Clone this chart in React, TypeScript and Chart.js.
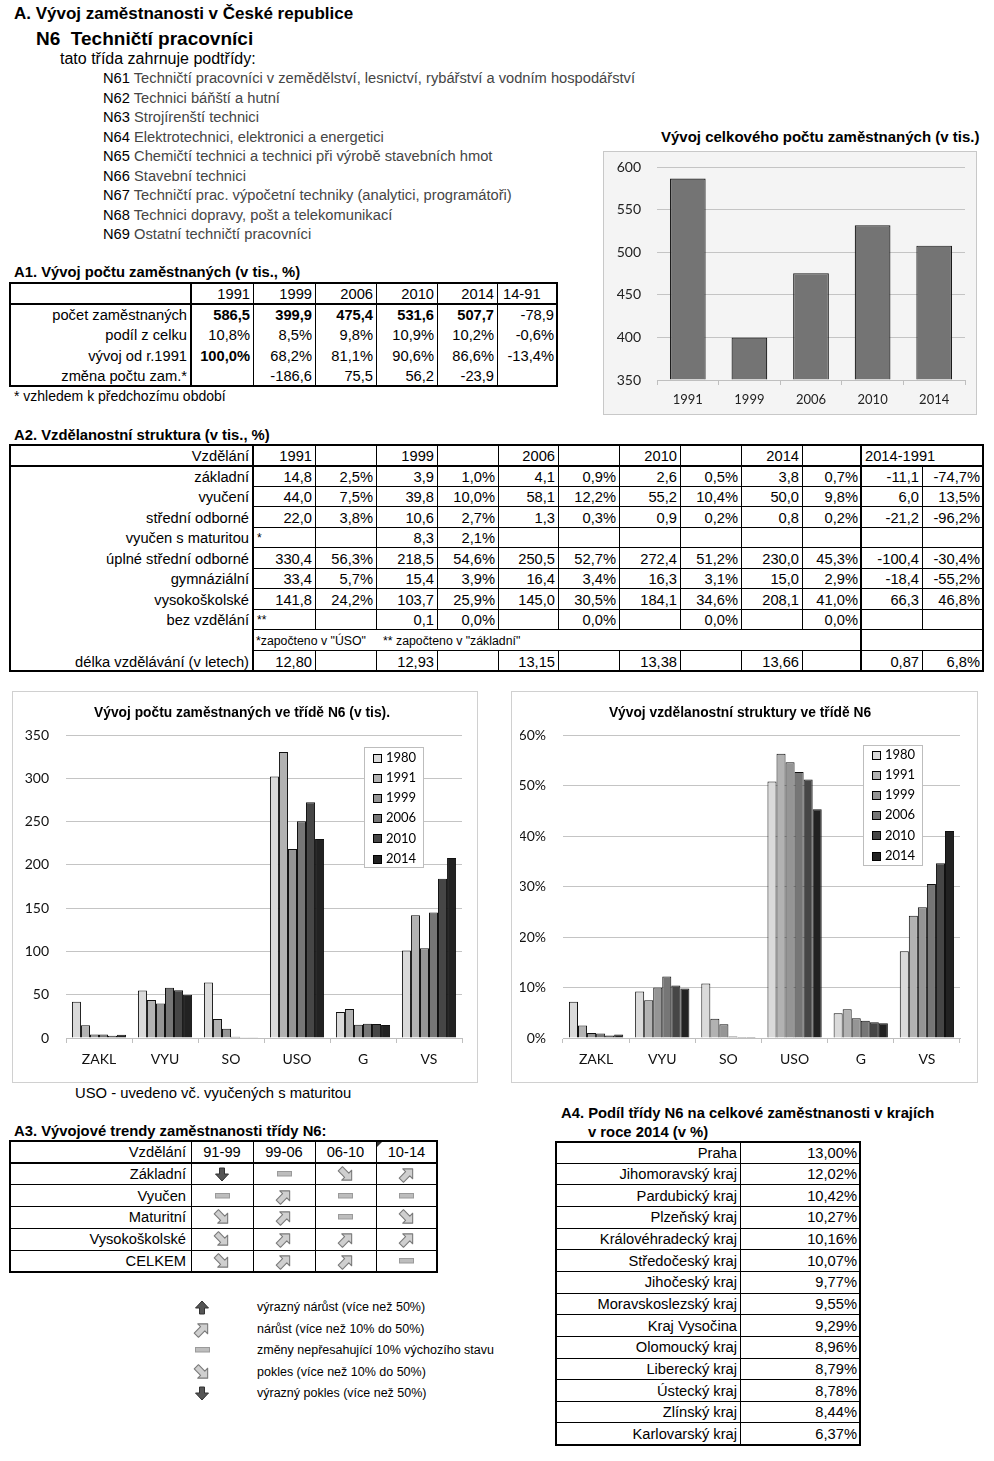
import React, { useEffect, useRef } from "react";
import { Chart, registerables } from "chart.js";
Chart.register(...registerables);

const FONT = '"Liberation Sans", Arial, sans-serif';
const CHART_FONT = 'Lato, "Open Sans", sans-serif';
const BODY = 14.7;

// ---------- data ----------
const subclassCodes = ["N61", "N62", "N63", "N64", "N65", "N66", "N67", "N68", "N69"];
const subclassNames = [
  "Techničtí pracovníci v zemědělství, lesnictví, rybářství a vodním hospodářství",
  "Technici báňští a hutní",
  "Strojírenští technici",
  "Elektrotechnici, elektronici a energetici",
  "Chemičtí technici a technici při výrobě stavebních hmot",
  "Stavební technici",
  "Techničtí prac. výpočetní techniky (analytici, programátoři)",
  "Technici dopravy, pošt a telekomunikací",
  "Ostatní techničtí pracovníci",
];

const totalYears = ["1991", "1999", "2006", "2010", "2014"];
const totalEmployed = [586.5, 399.9, 475.4, 531.6, 507.7];

const a1Header = ["1991", "1999", "2006", "2010", "2014", "14-91"];
const a1Labels = ["počet zaměstnaných", "podíl z celku", "vývoj od r.1991", "změna počtu zam.*"];
const a1Count = ["586,5", "399,9", "475,4", "531,6", "507,7", "-78,9"];
const a1Share = ["10,8%", "8,5%", "9,8%", "10,9%", "10,2%", "-0,6%"];
const a1Index = ["100,0%", "68,2%", "81,1%", "90,6%", "86,6%", "-13,4%"];
const a1Change = ["", "-186,6", "75,5", "56,2", "-23,9", ""];

const a2Header = ["1991", "", "1999", "", "2006", "", "2010", "", "2014", ""];
const a2Labels = ["základní", "vyučení", "střední odborné", "vyučen s maturitou", "úplné střední odborné", "gymnáziální", "vysokoškolské", "bez vzdělání"];
const a2Zakladni = ["14,8", "2,5%", "3,9", "1,0%", "4,1", "0,9%", "2,6", "0,5%", "3,8", "0,7%", "-11,1", "-74,7%"];
const a2Vyuceni = ["44,0", "7,5%", "39,8", "10,0%", "58,1", "12,2%", "55,2", "10,4%", "50,0", "9,8%", "6,0", "13,5%"];
const a2Stredni = ["22,0", "3,8%", "10,6", "2,7%", "1,3", "0,3%", "0,9", "0,2%", "0,8", "0,2%", "-21,2", "-96,2%"];
const a2VyucenMat = ["*", "", "8,3", "2,1%", "", "", "", "", "", "", "", ""];
const a2Uplne = ["330,4", "56,3%", "218,5", "54,6%", "250,5", "52,7%", "272,4", "51,2%", "230,0", "45,3%", "-100,4", "-30,4%"];
const a2Gymn = ["33,4", "5,7%", "15,4", "3,9%", "16,4", "3,4%", "16,3", "3,1%", "15,0", "2,9%", "-18,4", "-55,2%"];
const a2Vs = ["141,8", "24,2%", "103,7", "25,9%", "145,0", "30,5%", "184,1", "34,6%", "208,1", "41,0%", "66,3", "46,8%"];
const a2Bez = ["**", "", "0,1", "0,0%", "", "0,0%", "", "0,0%", "", "0,0%", "", ""];
const a2Delka = ["12,80", "", "12,93", "", "13,15", "", "13,38", "", "13,66", "", "0,87", "6,8%"];

const eduCategories = ["ZAKL", "VYU", "SO", "USO", "G", "VS"];
const seriesYears = ["1980", "1991", "1999", "2006", "2010", "2014"];
const emp1980 = [42, 55, 64, 302, 30, 101];
const emp1991 = [14.8, 44.0, 22.0, 330.4, 33.4, 141.8];
const emp1999 = [3.9, 39.8, 10.6, 218.5, 15.4, 103.7];
const emp2006 = [4.1, 58.1, 1.3, 250.5, 16.4, 145.0];
const emp2010 = [2.6, 55.2, 0.9, 272.4, 16.3, 184.1];
const emp2014 = [3.8, 50.0, 0.8, 230.0, 15.0, 208.1];
const pct1980 = [7.2, 9.2, 10.8, 50.8, 4.9, 17.2];
const pct1991 = [2.5, 7.5, 3.8, 56.3, 5.7, 24.2];
const pct1999 = [1.0, 10.0, 2.7, 54.6, 3.9, 25.9];
const pct2006 = [0.9, 12.2, 0.3, 52.7, 3.4, 30.5];
const pct2010 = [0.5, 10.4, 0.2, 51.2, 3.1, 34.6];
const pct2014 = [0.7, 9.8, 0.2, 45.3, 2.9, 41.0];
const seriesColors = ["#dadada", "#b2b2b2", "#959595", "#767676", "#464646", "#222222"];

const a3Header = ["91-99", "99-06", "06-10", "10-14"];
const a3Labels = ["Základní", "Vyučen", "Maturitní", "Vysokoškolské", "CELKEM"];
const a3Zakladni = ["dd", "s", "d", "u"];
const a3Vyucen = ["s", "u", "s", "s"];
const a3Maturitni = ["d", "u", "s", "d"];
const a3Vysokoskolske = ["d", "u", "u", "u"];
const a3Celkem = ["d", "u", "u", "s"];
const trendKinds = ["uu", "u", "s", "d", "dd"];
const trendTexts = [
  "výrazný nárůst (více než 50%)",
  "nárůst (více než 10% do 50%)",
  "změny nepřesahující 10% výchozího stavu",
  "pokles (více než 10% do 50%)",
  "výrazný pokles (více než 50%)",
];

const regions = ["Praha", "Jihomoravský kraj", "Pardubický kraj", "Plzeňský kraj", "Královéhradecký kraj", "Středočeský kraj", "Jihočeský kraj", "Moravskoslezský kraj", "Kraj Vysočina", "Olomoucký kraj", "Liberecký kraj", "Ústecký kraj", "Zlínský kraj", "Karlovarský kraj"];
const regionShares = ["13,00%", "12,02%", "10,42%", "10,27%", "10,16%", "10,07%", "9,77%", "9,55%", "9,29%", "8,96%", "8,79%", "8,78%", "8,44%", "6,37%"];

// ---------- helpers ----------
const T = ({ x, y, size = BODY, bold = false, color = "#000", children, font = FONT, style = {} }: any) => (
  <div style={{ position: "absolute", left: x, top: Math.round(y - size * 0.6), fontSize: size, lineHeight: `${Math.round(size * 1.2)}px`, fontWeight: bold ? "bold" : "normal", color, fontFamily: font, whiteSpace: "nowrap", ...style }}>{children}</div>
);
const HL = ({ x1, x2, y, t = 1 }: any) => (
  <div style={{ position: "absolute", left: Math.round(x1), top: Math.round(y - t / 2), width: Math.round(x2 - x1), height: t, background: "#000" }} />
);
const VL = ({ x, y1, y2, t = 1 }: any) => (
  <div style={{ position: "absolute", left: Math.round(x - t / 2), top: Math.round(y1), width: t, height: Math.round(y2 - y1), background: "#000" }} />
);
const Cell = ({ x1, x2, y1, y2, align = "right", size = BODY, bold = false, pad = 3, children }: any) => (
  <div style={{ position: "absolute", left: Math.round(x1), top: Math.round(y1), width: Math.round(x2 - x1), height: Math.round(y2 - y1), display: "flex", alignItems: "center", justifyContent: align === "right" ? "flex-end" : align === "center" ? "center" : "flex-start", paddingLeft: align === "left" ? pad : 0, paddingRight: align === "right" ? pad : 0, boxSizing: "border-box", fontSize: size, fontWeight: bold ? "bold" : "normal", fontFamily: FONT, whiteSpace: "nowrap", color: "#000" }}>{children}</div>
);
const Frame = ({ x1, x2, y1, y2, t = 2 }: any) => (
  <>
    <HL x1={x1 - t / 2} x2={x2 + t / 2} y={y1} t={t} />
    <HL x1={x1 - t / 2} x2={x2 + t / 2} y={y2} t={t} />
    <VL x={x1} y1={y1} y2={y2} t={t} />
    <VL x={x2} y1={y1} y2={y2} t={t} />
  </>
);

function TrendIcon({ kind }: { kind: string }) {
  if (kind === "s") {
    return (
      <svg width="17" height="8" style={{ display: "block" }}>
        <rect x="1.5" y="1.5" width="14" height="4.5" fill="#bdbdbd" stroke="#9a9a9a" />
      </svg>
    );
  }
  if (kind === "dd" || kind === "uu") {
    const pts = "4.5,1 9.5,1 9.5,7 13.5,7 7,14 0.5,7 4.5,7";
    return (
      <svg width="14" height="15" style={{ display: "block" }}>
        <polygon points={pts} fill="#555" stroke="#333" transform={kind === "uu" ? "rotate(180 7 7.5)" : undefined} />
      </svg>
    );
  }
  const pts = "0,6 9,6 9,2 16,9 9,16 9,12 0,12";
  const rot = kind === "u" ? -45 : 45;
  return (
    <svg width="18" height="18" style={{ display: "block", overflow: "visible" }}>
      <g transform={`translate(1 0.5) rotate(${rot} 8 9)`}>
        <polygon points={pts} fill="#cfcfcf" stroke="#7a7a7a" strokeWidth="1.1" strokeLinejoin="round" />
      </g>
    </svg>
  );
}

const boxLegend = {
  id: "boxLegend",
  afterDraw(chart: any, _args: any, opts: any) {
    const { ctx } = chart;
    ctx.save();
    ctx.fillStyle = "#ffffff";
    ctx.fillRect(opts.x, opts.y, opts.w, opts.h);
    ctx.strokeStyle = "#bdbdbd";
    ctx.lineWidth = 1;
    ctx.strokeRect(opts.x + 0.5, opts.y + 0.5, opts.w, opts.h);
    ctx.font = `13px ${CHART_FONT}`;
    ctx.textBaseline = "middle";
    chart.data.datasets.forEach((ds: any, i: number) => {
      const cy = opts.y + opts.first + i * opts.rowH;
      ctx.fillStyle = ds.backgroundColor;
      ctx.fillRect(opts.x + 9.5, Math.round(cy - 4) + 0.5, 8, 8);
      ctx.strokeStyle = "#000";
      ctx.strokeRect(opts.x + 9.5, Math.round(cy - 4) + 0.5, 8, 8);
      ctx.fillStyle = "#000";
      ctx.fillText(ds.label, opts.x + 22, cy);
    });
    ctx.restore();
  },
};

function ChartCanvas({ x, y, w, h, make }: any) {
  const ref = useRef<HTMLCanvasElement>(null);
  useEffect(() => {
    const c = new Chart(ref.current as HTMLCanvasElement, make());
    return () => c.destroy();
  }, []);
  return <canvas ref={ref} width={w} height={h} style={{ position: "absolute", left: x, top: y, width: w, height: h }} />;
}

function totalConfig(): any {
  return {
    type: "bar",
    data: {
      labels: totalYears,
      datasets: [{ data: totalEmployed, base: 350, backgroundColor: "#747474", borderColor: "#1c1c1c", borderWidth: 1.2, barPercentage: 0.58, categoryPercentage: 1 }],
    },
    options: {
      responsive: false,
      maintainAspectRatio: false,
      animation: false,
      layout: { padding: { top: 16, right: 12, left: 0, bottom: 0 } },
      plugins: { legend: { display: false }, tooltip: { enabled: false } },
      scales: {
        x: {
          grid: { drawOnChartArea: false, tickLength: 5, color: "#bfbfbf" },
          border: { color: "#bfbfbf" },
          ticks: { color: "#222", font: { family: CHART_FONT, size: 13 }, padding: 7 },
          afterFit: (s: any) => { s.height = 35; },
        },
        y: {
          min: 350,
          max: 600,
          ticks: { stepSize: 50, color: "#222", font: { family: CHART_FONT, size: 14 }, padding: 2 },
          grid: { color: "#c4c4c4", drawTicks: true, tickLength: 14, tickColor: "rgba(0,0,0,0)" },
          border: { display: false },
          afterFit: (s: any) => { s.width = 54; },
        },
      },
    },
  };
}

function eduConfig(series: number[][], max: number, step: number, pct: boolean, title: string, padLeft: number, yWidth: number, padRight: number, legendPos: any): any {
  return {
    type: "bar",
    data: {
      labels: eduCategories,
      datasets: seriesYears.map((yr, i) => ({
        label: yr,
        data: series[i],
        backgroundColor: seriesColors[i],
        borderColor: "#111",
        borderWidth: 1,
        categoryPercentage: 0.82,
        barPercentage: 1,
      })),
    },
    options: {
      responsive: false,
      maintainAspectRatio: false,
      animation: false,
      layout: { padding: { top: 0, right: padRight, left: padLeft, bottom: 0 } },
      plugins: {
        legend: { display: false },
        tooltip: { enabled: false },
        title: { display: true, text: title, color: "#000", font: { family: FONT, size: 13.8, weight: "bold" }, padding: { top: 14, bottom: 13.5 } },
        boxLegend: legendPos,
      },
      scales: {
        x: {
          grid: { drawOnChartArea: false, tickLength: 5, color: "#bfbfbf" },
          border: { color: "#bfbfbf" },
          ticks: { color: "#111", font: { family: CHART_FONT, size: 14 }, padding: 8 },
          afterFit: (s: any) => { s.height = 44; },
        },
        y: {
          min: 0,
          max,
          ticks: { stepSize: step, color: "#111", font: { family: CHART_FONT, size: 14 }, padding: 2, callback: (v: any) => (pct ? `${v}%` : `${v}`) },
          grid: { color: "#c4c4c4", drawTicks: true, tickLength: 15, tickColor: "rgba(0,0,0,0)" },
          border: { display: false },
          afterFit: (s: any) => { s.width = yWidth; },
        },
      },
    },
    plugins: [boxLegend],
  };
}

// ---------- tables ----------
function TableA1() {
  const cols = [10, 191, 253, 315, 376, 437, 497, 557];
  const ry = (r: number) => 283 + r * 20.6;
  const rows = [a1Count, a1Share, a1Index, a1Change];
  return (
    <>
      {a1Header.map((h, i) => (
        <Cell key={"h" + i} x1={cols[i + 1]} x2={cols[i + 2]} y1={ry(0)} y2={ry(1)} align={i === 5 ? "left" : "right"} pad={i === 5 ? 6 : 3}>{h}</Cell>
      ))}
      {a1Labels.map((l, r) => (
        <Cell key={"l" + r} x1={cols[0]} x2={cols[1]} y1={ry(r + 1)} y2={ry(r + 2)} pad={4}>{l}</Cell>
      ))}
      {rows.map((row, r) =>
        row.map((v, c) => (
          <Cell key={`c${r}-${c}`} x1={cols[c + 1]} x2={cols[c + 2]} y1={ry(r + 1)} y2={ry(r + 2)} bold={(r === 0 && c < 5) || (r === 2 && c === 0)}>{v}</Cell>
        ))
      )}
      <HL x1={10} x2={557} y={ry(1)} t={2} />
      {cols.slice(1, -1).map((x, i) => (
        <VL key={"v" + i} x={x} y1={ry(0)} y2={ry(5)} t={i === 0 ? 2 : 1} />
      ))}
      <Frame x1={10} x2={557} y1={ry(0)} y2={ry(5)} />
    </>
  );
}

function TableA2() {
  const cols = [10, 253, 315, 376, 437, 498, 558, 619, 680, 741, 802, 861, 922, 983];
  const ry = (r: number) => 445 + r * 20.55;
  const rows = [a2Zakladni, a2Vyuceni, a2Stredni, a2VyucenMat, a2Uplne, a2Gymn, a2Vs, a2Bez];
  const els: any[] = [];
  els.push(<Cell key="hv" x1={cols[0]} x2={cols[1]} y1={ry(0)} y2={ry(1)} pad={4}>Vzdělání</Cell>);
  a2Header.forEach((h, i) => els.push(<Cell key={"h" + i} x1={cols[i + 1]} x2={cols[i + 2]} y1={ry(0)} y2={ry(1)}>{h}</Cell>));
  els.push(<Cell key="hd" x1={cols[11]} x2={cols[13]} y1={ry(0)} y2={ry(1)} align="left" pad={4}>2014-1991</Cell>);
  a2Labels.forEach((l, r) => els.push(<Cell key={"l" + r} x1={cols[0]} x2={cols[1]} y1={ry(r + 1)} y2={ry(r + 2)} pad={4}>{l}</Cell>));
  rows.forEach((row, r) =>
    row.forEach((v, c) => {
      const star = v.startsWith("*");
      els.push(
        <Cell key={`c${r}-${c}`} x1={cols[c + 1]} x2={cols[c + 2]} y1={ry(r + 1)} y2={ry(r + 2)} align={star ? "left" : "right"} size={star ? 12 : BODY} pad={star ? 4 : 3}>{v}</Cell>
      );
    })
  );
  els.push(<Cell key="n1" x1={253} x2={383} y1={ry(9)} y2={ry(10)} align="left" size={12.3} pad={3}>*započteno v "ÚSO"</Cell>);
  els.push(<Cell key="n2" x1={380} x2={700} y1={ry(9)} y2={ry(10)} align="left" size={12.3} pad={3}>** započteno v "základní"</Cell>);
  els.push(<Cell key="dl" x1={cols[0]} x2={cols[1]} y1={ry(10)} y2={ry(11)} pad={4}>délka vzdělávání (v letech)</Cell>);
  a2Delka.forEach((v, c) => els.push(<Cell key={"d" + c} x1={cols[c + 1]} x2={cols[c + 2]} y1={ry(10)} y2={ry(11)}>{v}</Cell>));
  for (let r = 2; r <= 10; r++) els.push(<HL key={"hl" + r} x1={253} x2={983} y={ry(r)} t={1} />);
  els.push(<HL key="hh" x1={10} x2={983} y={ry(1)} t={2} />);
  for (let c = 2; c <= 10; c++) {
    els.push(<VL key={"va" + c} x={cols[c]} y1={ry(0)} y2={ry(9)} />);
    els.push(<VL key={"vb" + c} x={cols[c]} y1={ry(10)} y2={ry(11)} />);
  }
  els.push(<VL key="v12a" x={922} y1={ry(1)} y2={ry(9)} />);
  els.push(<VL key="v12b" x={922} y1={ry(10)} y2={ry(11)} />);
  els.push(<VL key="v1" x={253} y1={ry(0)} y2={ry(11)} t={2} />);
  els.push(<VL key="v11" x={861} y1={ry(0)} y2={ry(11)} t={2} />);
  els.push(<Frame key="fr" x1={10} x2={983} y1={ry(0)} y2={ry(11)} />);
  return <>{els}</>;
}

function TableA3() {
  const cols = [10, 191, 253, 315, 376, 437];
  const ry = (r: number) => 1141 + r * 21.8;
  const rows = [a3Zakladni, a3Vyucen, a3Maturitni, a3Vysokoskolske, a3Celkem];
  return (
    <>
      <Cell x1={cols[0]} x2={cols[1]} y1={ry(0)} y2={ry(1)} pad={5}>Vzdělání</Cell>
      {a3Header.map((h, i) => (
        <Cell key={"h" + i} x1={cols[i + 1]} x2={cols[i + 2]} y1={ry(0)} y2={ry(1)} align="center">{h}</Cell>
      ))}
      {a3Labels.map((l, r) => (
        <Cell key={"l" + r} x1={cols[0]} x2={cols[1]} y1={ry(r + 1)} y2={ry(r + 2)} pad={5}>{l}</Cell>
      ))}
      {rows.map((row, r) =>
        row.map((k, c) => (
          <Cell key={`i${r}-${c}`} x1={cols[c + 1]} x2={cols[c + 2]} y1={ry(r + 1)} y2={ry(r + 2)} align="center"><TrendIcon kind={k} /></Cell>
        ))
      )}
      {[2, 3, 4, 5].map((r) => <HL key={"hl" + r} x1={10} x2={437} y={ry(r)} t={1} />)}
      <HL x1={10} x2={437} y={ry(1)} t={2} />
      {cols.slice(1, -1).map((x, i) => <VL key={"v" + i} x={x} y1={ry(0)} y2={ry(6)} t={1} />)}
      <Frame x1={10} x2={437} y1={ry(0)} y2={ry(6)} />
      <svg width="6" height="6" style={{ position: "absolute", left: 377, top: 1142 }}>
        <polygon points="0,0 5,0 0,5" fill="#333" />
      </svg>
    </>
  );
}

function TrendLegend() {
  const ys = [1307, 1329, 1350, 1372, 1393];
  return (
    <>
      {trendKinds.map((k, i) => (
        <div key={"k" + i} style={{ position: "absolute", left: 191, top: ys[i] - 10, width: 22, height: 20, display: "flex", alignItems: "center", justifyContent: "center" }}>
          <TrendIcon kind={k} />
        </div>
      ))}
      {trendTexts.map((t, i) => (
        <T key={"t" + i} x={257} y={ys[i]} size={12.5}>{t}</T>
      ))}
    </>
  );
}

function TableA4() {
  const cols = [556, 740, 860];
  const ry = (r: number) => 1141.5 + r * 21.65;
  return (
    <>
      {regions.map((l, r) => (
        <Cell key={"l" + r} x1={cols[0]} x2={cols[1]} y1={ry(r)} y2={ry(r + 1)} pad={3}>{l}</Cell>
      ))}
      {regionShares.map((v, r) => (
        <Cell key={"v" + r} x1={cols[1]} x2={cols[2]} y1={ry(r)} y2={ry(r + 1)} pad={3}>{v}</Cell>
      ))}
      {regions.slice(1).map((_, i) => <HL key={"h" + i} x1={556} x2={860} y={ry(i + 1)} t={1} />)}
      <VL x={740} y1={ry(0)} y2={ry(14)} t={1} />
      <Frame x1={556} x2={860} y1={ry(0)} y2={ry(14)} />
    </>
  );
}

export default function App() {
  const empSeries = [emp1980, emp1991, emp1999, emp2006, emp2010, emp2014];
  const pctSeries = [pct1980, pct1991, pct1999, pct2006, pct2010, pct2014];
  return (
    <div style={{ position: "absolute", left: 0, top: 0, width: 994, height: 1461, background: "#fff", fontFamily: FONT, color: "#000", overflow: "hidden" }}>
      <T x={14} y={14} size={17} bold>A. Vývoj zaměstnanosti v České republice</T>
      <T x={36} y={38} size={19} bold>N6&nbsp;&nbsp;Techničtí pracovníci</T>
      <T x={60} y={59} size={16}>tato třída zahrnuje podtřídy:</T>
      {subclassCodes.map((c, i) => (
        <T key={c} x={103} y={78 + i * 19.5} size={14.7}>
          {c} <span style={{ color: "#454545" }}>{subclassNames[i]}</span>
        </T>
      ))}

      <T x={661} y={137} size={15} bold>Vývoj celkového počtu zaměstnaných (v tis.)</T>
      <div style={{ position: "absolute", left: 603, top: 151, width: 372, height: 262, border: "1px solid #c8c8c8", background: "#f4f4f4" }} />
      <ChartCanvas x={603} y={151} w={374} h={264} make={totalConfig} />

      <T x={14} y={272} size={14.8} bold>A1. Vývoj počtu zaměstnaných (v tis., %)</T>
      <TableA1 />
      <T x={14} y={396} size={14}>* vzhledem k předchozímu období</T>

      <T x={14} y={435} size={14.8} bold>A2. Vzdělanostní struktura (v tis., %)</T>
      <TableA2 />

      <div style={{ position: "absolute", left: 12, top: 691, width: 464, height: 390, border: "1px solid #d0d0d0" }} />
      <ChartCanvas x={12} y={691} w={465} h={391} make={() => eduConfig(empSeries, 350, 50, false, "Vývoj počtu zaměstnaných ve třídě N6 (v tis).", 10, 44, 15, { x: 352, y: 56, w: 59, h: 120, first: 11, rowH: 20.1 })} />
      <T x={75} y={1093} size={14.8}>USO - uvedeno vč. vyučených s maturitou</T>

      <div style={{ position: "absolute", left: 511, top: 691, width: 465, height: 390, border: "1px solid #d0d0d0" }} />
      <ChartCanvas x={511} y={691} w={466} h={391} make={() => eduConfig(pctSeries, 60, 10, true, "Vývoj vzdělanostní struktury ve třídě N6", 9, 43, 17, { x: 352, y: 54, w: 59, h: 120, first: 10, rowH: 20.1 })} />

      <T x={14} y={1131} size={14.8} bold>A3. Vývojové trendy zaměstnanosti třídy N6:</T>
      <TableA3 />
      <TrendLegend />

      <T x={561} y={1113} size={14.8} bold>A4. Podíl třídy N6 na celkové zaměstnanosti v krajích</T>
      <T x={588} y={1132} size={14.8} bold>v roce 2014 (v %)</T>
      <TableA4 />
    </div>
  );
}
